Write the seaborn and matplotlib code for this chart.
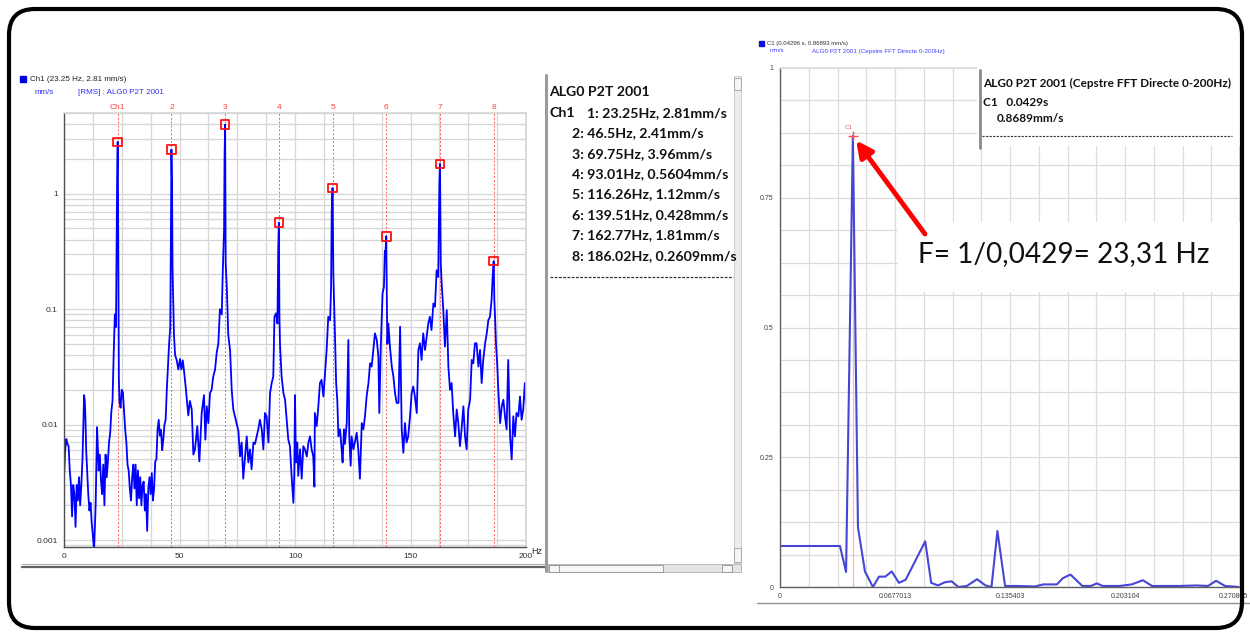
import numpy as np
import pandas as pd
import matplotlib
matplotlib.use("Agg")
import matplotlib.pyplot as plt
import matplotlib.transforms as mtransforms
from matplotlib.patches import FancyBboxPatch, Rectangle
from matplotlib.ticker import FixedLocator, NullFormatter, MultipleLocator, LogLocator
import seaborn as sns

# ---------------- data : spectrum (left) ----------------
freq_hz = [0.0, 0.5, 1.0, 1.5, 2.0, 2.5, 3.0, 3.5, 4.0, 4.5, 5.0, 5.5, 6.0, 6.5, 7.0, 7.5, 8.0, 8.5, 8.7, 9.0,
           9.3, 9.6, 10.0, 10.5, 11.0, 11.5, 12.0, 12.5, 13.0, 13.3, 13.7, 14.0, 14.3, 14.7, 15.0, 15.5, 16.0, 16.5,
           17.0, 17.5, 18.0, 18.5, 19.0, 19.5, 20.0, 20.5, 21.0, 21.5, 22.0, 22.5, 22.75, 23.0, 23.25, 23.5, 23.75,
           24.0, 24.5, 25.0, 25.5, 26.0, 26.5, 27.0, 27.5, 28.0, 28.5, 29.0, 29.5, 30.0, 30.5, 31.0, 31.5, 32.0,
           32.5, 33.0, 33.5, 34.0, 34.5, 35.0, 35.5, 36.0, 36.5, 37.0, 37.5, 38.0, 38.5, 39.0, 39.5, 40.0, 40.5,
           41.0, 41.5, 42.0, 42.5, 43.0, 43.5, 44.0, 44.5, 45.0, 45.5, 46.0, 46.25, 46.5, 46.75, 47.0, 47.3, 47.6,
           48.1, 48.8, 49.5, 50.2, 50.8, 51.4, 51.9, 52.8, 53.8, 54.5, 55.3, 56.0, 56.7, 57.7, 58.6, 59.6, 60.6,
           61.2, 61.8, 62.5, 63.2, 63.9, 64.6, 65.4, 66.1, 66.8, 67.5, 68.3, 68.7, 69.3, 69.5, 69.75, 70.0, 70.5,
           71.1, 71.9, 72.6, 73.3, 74.0, 74.7, 75.5, 76.2, 76.9, 77.6, 78.4, 79.1, 79.8, 80.5, 81.2, 82.0, 82.7,
           83.4, 84.1, 84.8, 85.6, 86.3, 87.0, 87.7, 88.5, 89.2, 89.9, 90.6, 91.1, 91.8, 92.4, 92.75, 93.01, 93.25,
           93.5, 94.2, 95.0, 95.7, 96.4, 97.1, 97.8, 98.6, 99.3, 99.7, 100.0, 100.4, 101.0, 101.4, 102.2, 102.9,
           103.6, 104.3, 105.1, 105.8, 106.5, 107.2, 107.9, 108.4, 108.6, 109.4, 110.1, 110.8, 111.5, 112.3, 113.0,
           113.7, 114.4, 115.2, 115.6, 115.9, 116.26, 116.6, 116.9, 117.3, 117.8, 118.3, 118.8, 119.5, 120.2, 120.6,
           121.2, 121.6, 122.4, 123.1, 123.5, 124.1, 124.5, 125.3, 126.0, 126.7, 127.4, 128.1, 128.9, 129.6, 130.3,
           131.0, 131.8, 132.5, 133.2, 133.9, 134.6, 135.4, 136.1, 136.5, 137.1, 137.9, 138.5, 138.9, 139.2, 139.51,
           139.8, 140.0, 140.4, 141.1, 141.9, 142.6, 143.3, 144.0, 144.8, 145.5, 146.2, 146.9, 147.6, 148.3, 149.0,
           149.8, 150.5, 151.2, 151.9, 152.7, 153.4, 154.1, 154.8, 155.5, 156.3, 157.0, 157.7, 158.4, 159.1, 159.9,
           160.6, 161.3, 162.0, 162.5, 162.77, 163.1, 163.5, 164.2, 164.9, 165.7, 166.4, 167.1, 167.8, 168.5, 169.3,
           170.0, 170.7, 171.4, 172.1, 172.9, 173.6, 174.3, 175.0, 175.8, 176.5, 177.2, 177.9, 178.6, 179.4, 180.1,
           180.8, 181.5, 182.3, 183.0, 183.7, 184.4, 185.1, 185.6, 186.02, 186.3, 186.6, 187.0, 187.6, 188.0, 188.8,
           189.5, 190.2, 190.9, 191.6, 192.3, 193.1, 193.8, 194.5, 195.2, 195.9, 196.7, 197.4, 198.1, 198.8, 199.5,
           200.0]
amp_mms = [0.0035, 0.006, 0.0075, 0.0068, 0.0065, 0.004, 0.003, 0.0016, 0.003, 0.0025, 0.0013, 0.003, 0.0022,
           0.0035, 0.002, 0.003, 0.005, 0.012, 0.018, 0.016, 0.011, 0.006, 0.004, 0.0025, 0.0018, 0.0021, 0.0014,
           0.0011, 0.0008, 0.0012, 0.002, 0.0045, 0.0095, 0.006, 0.004, 0.0055, 0.0033, 0.0025, 0.0045, 0.002,
           0.0055, 0.0035, 0.0048, 0.007, 0.0085, 0.013, 0.016, 0.04, 0.09, 0.07, 0.3, 1.38, 2.81, 0.35, 0.025,
           0.016, 0.014, 0.02, 0.019, 0.013, 0.009, 0.007, 0.0045, 0.004, 0.0028, 0.0022, 0.0035, 0.0045, 0.0028,
           0.0045, 0.002, 0.004, 0.0023, 0.0035, 0.002, 0.003, 0.0032, 0.0018, 0.0025, 0.0012, 0.0028, 0.0035,
           0.0025, 0.0038, 0.0022, 0.0028, 0.0048, 0.005, 0.009, 0.011, 0.008, 0.009, 0.006, 0.0075, 0.01, 0.011,
           0.02, 0.032, 0.05, 0.07, 0.35, 2.41, 1.22, 0.22, 0.12, 0.06, 0.04, 0.036, 0.03, 0.037, 0.03, 0.036,
           0.03, 0.02, 0.012, 0.016, 0.0135, 0.0055, 0.0061, 0.0097, 0.0048, 0.0126, 0.018, 0.0074, 0.0144,
           0.0103, 0.0187, 0.02, 0.026, 0.03, 0.042, 0.05, 0.1, 0.09, 0.2, 0.5, 2.05, 3.96, 0.25, 0.15, 0.06,
           0.044, 0.02, 0.0135, 0.0118, 0.0103, 0.0088, 0.0053, 0.007, 0.0034, 0.0053, 0.0079, 0.0047, 0.0061,
           0.0041, 0.007, 0.0068, 0.0079, 0.0091, 0.011, 0.0091, 0.0061, 0.0126, 0.0118, 0.007, 0.0187, 0.0229,
           0.0261, 0.0859, 0.092, 0.075, 0.34, 0.5604, 0.09, 0.05, 0.026, 0.0187, 0.0164, 0.011, 0.0074, 0.0065,
           0.0034, 0.0021, 0.0038, 0.018, 0.0047, 0.007, 0.0036, 0.0061, 0.0034, 0.0065, 0.0061, 0.0053, 0.007,
           0.0079, 0.0061, 0.0053, 0.0029, 0.0126, 0.0097, 0.0144, 0.0229, 0.0244, 0.0175, 0.0279, 0.0443, 0.0859,
           0.08, 0.15, 0.71, 1.12, 0.2, 0.12, 0.06, 0.023, 0.0164, 0.0079, 0.0091, 0.0061, 0.0047, 0.0091, 0.0068,
           0.0103, 0.054, 0.0079, 0.0044, 0.0079, 0.0061, 0.0072, 0.0085, 0.0061, 0.0034, 0.0103, 0.0091, 0.0118,
           0.0175, 0.0229, 0.034, 0.0318, 0.0443, 0.0617, 0.054, 0.0388, 0.0126, 0.0443, 0.1365, 0.1558, 0.32,
           0.32, 0.428, 0.1, 0.05, 0.0752, 0.0473, 0.0318, 0.0261, 0.0187, 0.0154, 0.0154, 0.0704, 0.0091, 0.0057,
           0.0103, 0.007, 0.0079, 0.0118, 0.0187, 0.0214, 0.0175, 0.0126, 0.0443, 0.0506, 0.0363, 0.0617, 0.0443,
           0.0577, 0.0752, 0.0859, 0.0659, 0.1119, 0.1047, 0.2169, 0.19, 1.25, 1.81, 0.25, 0.1665, 0.098, 0.0473,
           0.098, 0.0318, 0.02, 0.0229, 0.0126, 0.0079, 0.0135, 0.0103, 0.0065, 0.0091, 0.0144, 0.0079, 0.0061,
           0.0135, 0.0164, 0.0363, 0.034, 0.0506, 0.0506, 0.0318, 0.0443, 0.0229, 0.0363, 0.0506, 0.0617, 0.0804,
           0.0859, 0.1196, 0.2, 0.2609, 0.12, 0.0859, 0.0506, 0.0318, 0.02, 0.0103, 0.0144, 0.0164, 0.0118, 0.0091,
           0.0363, 0.0079, 0.005, 0.0118, 0.0079, 0.0126, 0.0118, 0.0175, 0.011, 0.0135, 0.0229, 0.015]

peak_labels = ["Ch1", "2", "3", "4", "5", "6", "7", "8"]
peak_freq = [23.25, 46.5, 69.75, 93.01, 116.26, 139.51, 162.77, 186.02]
peak_amp = [2.81, 2.41, 3.96, 0.5604, 1.12, 0.428, 1.81, 0.2609]
left_xticks = [0, 50, 100, 150, 200]
left_yticks = [0.001, 0.01, 0.1, 1]
left_yticklabels = ["0.001", "0.01", "0.1", "1"]

# ---------------- data : cepstrum (right) ----------------
quef_s = [0.0, 0.0353, 0.0389, 0.0429, 0.0459, 0.050, 0.0547, 0.0583, 0.062, 0.0658, 0.070, 0.074, 0.0855,
          0.089, 0.093, 0.097, 0.101, 0.105, 0.110, 0.116, 0.121, 0.1245, 0.128, 0.1325, 0.140, 0.150, 0.155,
          0.163, 0.1665, 0.171, 0.178, 0.183, 0.1865, 0.190, 0.200, 0.207, 0.2137, 0.219, 0.235, 0.245, 0.252,
          0.2567, 0.262, 0.2708]
cep_mms = [0.079, 0.079, 0.029, 0.8689, 0.115, 0.03, 0.0, 0.02, 0.02, 0.03, 0.008, 0.014, 0.088,
           0.008, 0.003, 0.009, 0.011, 0.0, 0.002, 0.015, 0.003, 0.0, 0.108, 0.002, 0.002, 0.001, 0.005,
           0.005, 0.017, 0.024, 0.002, 0.002, 0.007, 0.002, 0.002, 0.005, 0.013, 0.002, 0.002, 0.003, 0.002,
           0.012, 0.002, 0.0]
cursor_quef = 0.0429
cursor_amp = 0.8689
right_xticks = [0, 0.0677013, 0.135403, 0.203104, 0.270805]
right_xticklabels = ["0", "0.0677013", "0.135403", "0.203104", "0.270805"]
right_yticks = [0, 0.25, 0.5, 0.75, 1]
right_yticklabels = ["0", "0.25", "0.5", "0.75", "1"]

# ---------------- texts ----------------
panel_title = "ALG0 P2T 2001"
panel_rows = ["1: 23.25Hz, 2.81mm/s", "2: 46.5Hz, 2.41mm/s", "3: 69.75Hz, 3.96mm/s",
              "4: 93.01Hz, 0.5604mm/s", "5: 116.26Hz, 1.12mm/s", "6: 139.51Hz, 0.428mm/s",
              "7: 162.77Hz, 1.81mm/s", "8: 186.02Hz, 0.2609mm/s"]
cep_box_lines = ["ALG0 P2T 2001 (Cepstre FFT Directe 0-200Hz)", "C1   0.0429s", "0.8689mm/s"]
annot_text = "F= 1/0,0429= 23,31 Hz"

# ---------------- style ----------------
sns.set_theme(style="white")
plt.rcParams["font.family"] = ["Liberation Sans", "DejaVu Sans"]
W, H = 1250, 637
fig = plt.figure(figsize=(12.5, 6.37), dpi=100)
fig.patch.set_facecolor("white")


def rect(px0, py0, px1, py1):
    return [px0 / W, 1 - py1 / H, (px1 - px0) / W, (py1 - py0) / H]


bg = fig.add_axes([0, 0, 1, 1], zorder=0)
bg.set_xlim(0, W)
bg.set_ylim(H, 0)
bg.axis("off")

fg = fig.add_axes([0, 0, 1, 1], zorder=10)
fg.set_xlim(0, W)
fg.set_ylim(H, 0)
fg.axis("off")
fg.patch.set_alpha(0)

GRID = "#d6d6d6"
CAL = "Lato"

# ================= left spectrum =================
axL = fig.add_axes(rect(64, 113, 526, 547), zorder=2)
axL.set_facecolor("white")
spec = pd.DataFrame({"f": freq_hz, "a": amp_mms})
sns.lineplot(data=spec, x="f", y="a", ax=axL, color="#0000ff", lw=1.3, estimator=None, sort=False)
axL.set_yscale("log")
axL.set_xlim(0, 200)
axL.set_ylim(0.00087, 5.0)
axL.xaxis.set_major_locator(FixedLocator(left_xticks))
axL.xaxis.set_minor_locator(MultipleLocator(12.5))
axL.yaxis.set_major_locator(FixedLocator(left_yticks))
axL.set_yticklabels(left_yticklabels)
axL.yaxis.set_minor_locator(LogLocator(base=10, subs=np.arange(2, 10)))
axL.yaxis.set_minor_formatter(NullFormatter())
axL.grid(which="both", color=GRID, lw=0.9)
axL.set_axisbelow(True)
axL.tick_params(which="both", direction="out", length=3, width=0.8, color="#505050",
                labelsize=6, labelcolor="#303030", pad=1.5)
axL.tick_params(which="minor", length=2.5)
for s in ["left", "bottom"]:
    axL.spines[s].set_color("#505050")
    axL.spines[s].set_linewidth(1.0)
for s in ["top", "right"]:
    axL.spines[s].set_color(GRID)
for f in peak_freq:
    axL.axvline(f, color="#ff5a5a", lw=0.7, ls=(0, (2, 2)), zorder=1.5)
pk = pd.DataFrame({"f": peak_freq, "a": peak_amp})
sns.scatterplot(data=pk, x="f", y="a", ax=axL, marker="s", s=38, zorder=4)
coll = axL.collections[-1]
coll.set_facecolor("none")
coll.set_edgecolor("#ff1010")
coll.set_linewidth(1.3)
trL = mtransforms.blended_transform_factory(axL.transData, axL.transAxes)
for f, lab in zip(peak_freq, peak_labels):
    axL.text(f, 1.004, lab, transform=trL, ha="center", va="bottom", fontsize=6, color="#ff4040")
axL.set_xlabel("")
axL.set_ylabel("")

bg.text(537, 551, "Hz", fontsize=6.5, color="#303030", va="center", ha="center")
bg.add_patch(Rectangle((20, 76), 6, 6, color="#0000dd"))
bg.text(30, 79.5, f"Ch1 ({peak_freq[0]} Hz, {peak_amp[0]} mm/s)", fontsize=5.8, color="#202020", va="center")
bg.text(35, 92, "mm/s", fontsize=5.8, color="#3030ff", va="center")
bg.text(78, 92, "[RMS] : ALG0 P2T 2001", fontsize=5.8, color="#3030ff", va="center")
bg.plot([22, 545], [567, 567], color="#606060", lw=1.6)
bg.plot([22, 545], [564, 564], color="#b0b0b0", lw=0.8)

# ================= middle text panel =================
bg.plot([545.5, 545.5], [75, 571], color="#9a9a9a", lw=2.2)
bg.add_patch(Rectangle((734, 76), 7, 487, facecolor="#ececec", edgecolor="#c8c8c8", lw=0.6, zorder=3))
bg.add_patch(Rectangle((734, 78), 7, 12, facecolor="#f4f4f4", edgecolor="#a0a0a0", lw=0.6, zorder=3))
bg.add_patch(Rectangle((734, 548), 7, 14, facecolor="#f4f4f4", edgecolor="#a0a0a0", lw=0.6, zorder=3))
bg.add_patch(Rectangle((548, 564), 193, 8, facecolor="#e4e4e4", edgecolor="#b0b0b0", lw=0.6))
bg.add_patch(Rectangle((549, 564.5), 114, 7, facecolor="#f6f6f6", edgecolor="#909090", lw=0.6))
bg.add_patch(Rectangle((549, 564.5), 10, 7, facecolor="#f6f6f6", edgecolor="#909090", lw=0.6))
bg.add_patch(Rectangle((722, 564.5), 10, 7, facecolor="#f6f6f6", edgecolor="#909090", lw=0.6))

y0, dy = 92.5, 20.4
FS_MID = 10.2
bg.text(549, y0, panel_title, fontsize=FS_MID, fontweight="bold", family=CAL, color="#111111", va="center")
for i, row in enumerate(panel_rows):
    yy = y0 + dy * (i + 1)
    if i == 0:
        bg.text(549, yy, "Ch1", fontsize=FS_MID, fontweight="bold", family=CAL, color="#111111", va="center")
        bg.text(587, yy, row, fontsize=FS_MID, fontweight="bold", family=CAL, color="#111111", va="center")
    else:
        bg.text(572, yy, row, fontsize=FS_MID, fontweight="bold", family=CAL, color="#111111", va="center")
bg.plot([550, 733], [277, 277], color="#333333", lw=0.9, ls=(0, (2.2, 1.2)))

# ================= right cepstrum =================
axR = fig.add_axes(rect(780, 68, 1240, 587), zorder=2)
axR.set_facecolor("white")
cep = pd.DataFrame({"q": quef_s, "c": cep_mms})
axR.axvline(cursor_quef, ymax=cursor_amp, color="#ffb8a8", lw=0.9, zorder=1.5)
sns.lineplot(data=cep, x="q", y="c", ax=axR, color="#4646d6", lw=1.5, estimator=None, sort=False)
axR.set_xlim(0, 0.270805)
axR.set_ylim(0, 1)
axR.xaxis.set_major_locator(FixedLocator(right_xticks))
axR.set_xticklabels(right_xticklabels)
axR.xaxis.set_minor_locator(MultipleLocator(0.270805 / 16))
axR.yaxis.set_major_locator(FixedLocator(right_yticks))
axR.set_yticklabels(right_yticklabels)
axR.yaxis.set_minor_locator(MultipleLocator(0.0625))
axR.grid(which="both", color="#dcdcdc", lw=0.9)
axR.set_axisbelow(True)
axR.tick_params(which="both", direction="out", length=2.5, width=0.7, color="#606060",
                labelsize=5.0, labelcolor="#404040", pad=2)
axR.tick_params(which="minor", length=2)
for s in ["left", "bottom"]:
    axR.spines[s].set_color("#606060")
    axR.spines[s].set_linewidth(1.0)
for s in ["top", "right"]:
    axR.spines[s].set_color("#dcdcdc")
last_lab = axR.get_xticklabels()[-1]
last_lab.set_horizontalalignment("right")
last_lab.set_transform(last_lab.get_transform() + mtransforms.ScaledTranslation(8 / 100, 0, fig.dpi_scale_trans))
cur = pd.DataFrame({"q": [cursor_quef], "c": [cursor_amp]})
sns.scatterplot(data=cur, x="q", y="c", ax=axR, marker="+", s=45, color="#ff5050", linewidth=1.0, zorder=5)
axR.set_xlabel("")
axR.set_ylabel("")
axR.annotate("C1", (cursor_quef, cursor_amp), xytext=(-3, 4), textcoords="offset points",
             fontsize=4.5, color="#ff6060", ha="center", va="bottom")

bg.add_patch(Rectangle((759, 40.5), 5, 5, color="#1010d0"))
bg.text(767, 43, f"C1 (0.04296 s, 0.86893 mm/s)", fontsize=4.3, color="#303030", va="center")
bg.text(770, 51, "mm/s", fontsize=4.3, color="#4040ff", va="center")
bg.text(812, 51, "ALG0 P2T 2001 (Cepstre FFT Directe 0-200Hz)", fontsize=4.5, color="#4040ff", va="center")
bg.plot([757, 1250], [603, 603], color="#909090", lw=1.0)

# text box (cepstrum cursor)
FS_BOX = 8.5
fg.add_patch(Rectangle((977, 60), 270, 86, facecolor="white", edgecolor="none"))
fg.plot([979.5, 979.5], [70, 148], color="#8a8a8a", lw=2.0)
fg.text(983, 83, cep_box_lines[0], fontsize=FS_BOX, fontweight="bold", family=CAL, color="#111111", va="center")
fg.text(983, 102, cep_box_lines[1], fontsize=FS_BOX, fontweight="bold", family=CAL, color="#111111", va="center")
fg.text(997, 119, cep_box_lines[2], fontsize=FS_BOX, fontweight="bold", family=CAL, color="#111111", va="center")
fg.plot([982, 1232], [136, 136], color="#333333", lw=0.8, ls=(0, (2, 1.2)))

# big annotation
fg.add_patch(Rectangle((898, 222), 345, 70, facecolor="white", edgecolor="none"))
fg.text(1064, 254, annot_text, fontsize=20.2, family=CAL, color="#111111", va="center", ha="center")
fg.annotate("", xy=(cursor_quef, cursor_amp), xycoords=axR.transData,
            xytext=(925, 234), textcoords=fg.transData,
            arrowprops=dict(arrowstyle="-|>", color="#ff0000", lw=3.5, mutation_scale=24,
                            shrinkA=0, shrinkB=4))

# outer rounded frame
fg.add_patch(FancyBboxPatch((9, 9), 1233, 619, boxstyle="round,pad=0,rounding_size=26",
                            facecolor="none", edgecolor="black", lw=3.0))

fig.savefig("out.png", dpi=100, facecolor="white")
